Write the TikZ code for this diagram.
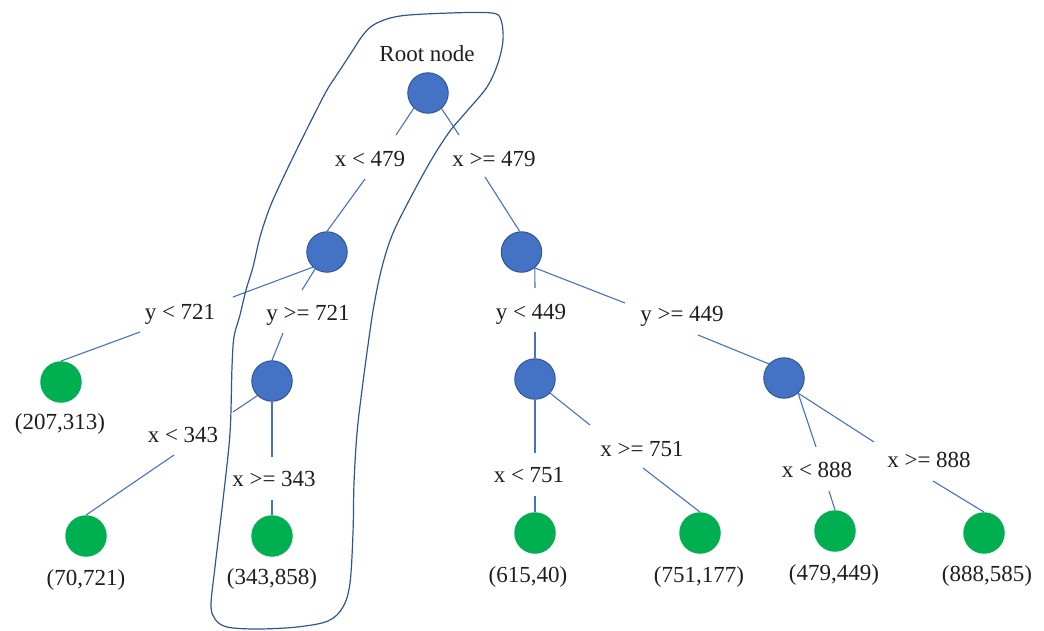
\documentclass[tikz,border=0pt]{standalone}
\usepackage{fontspec}
\setmainfont{Liberation Serif}
\definecolor{nodeblue}{HTML}{4472C4}
\definecolor{nodeedge}{HTML}{2F528F}
\definecolor{leafgreen}{HTML}{00B050}
\definecolor{linkblue}{HTML}{4472C4}
\definecolor{lassoblue}{HTML}{2F5597}
\definecolor{ink}{HTML}{1E1E1E}
\begin{document}
\begin{tikzpicture}[x=1pt,y=-1pt,
  split/.style={circle,fill=nodeblue,draw=nodeedge,line width=0.9pt,minimum size=40.5pt,inner sep=0pt},
  leaf/.style={circle,fill=leafgreen,minimum size=41.5pt,inner sep=0pt},
  lbl/.style={anchor=base,inner sep=0pt,text=ink,font=\fontsize{23}{26}\selectfont},
  link/.style={draw=linkblue,line width=1.1pt},
  outline/.style={draw=lassoblue,line width=1.2pt}]
\useasboundingbox (0,0) rectangle (1044,630);

% decision nodes
\node[split] (root) at (428,93) {};
\node[split] (A) at (327,252) {};
\node[split] (B) at (521.5,252) {};
\node[split] (C) at (272,381) {};
\node[split] (D) at (535,379) {};
\node[split] (E) at (784,378) {};

% leaves
\node[leaf] (L1) at (61,382) {};
\node[leaf] (L2) at (86,536) {};
\node[leaf] (L3) at (272,536) {};
\node[leaf] (L4) at (535,533) {};
\node[leaf] (L5) at (700,533) {};
\node[leaf] (L6) at (835,531) {};
\node[leaf] (L7) at (984,533) {};

% texts
\node[lbl] (tRoot) at (427,61) {Root node};
\node[lbl] (tR1) at (370,166) {x < 479};
\node[lbl] (tR2) at (494,166) {x >= 479};
\node[lbl] (tA1) at (180,319) {y < 721};
\node[lbl] (tA2) at (308,320) {y >= 721};
\node[lbl] (tC1) at (183,442) {x < 343};
\node[lbl] (tC2) at (274,486) {x >= 343};
\node[lbl] (tB1) at (531,319) {y < 449};
\node[lbl] (tB2) at (682,321) {y >= 449};
\node[lbl] (tD1) at (529,482) {x < 751};
\node[lbl] (tD2) at (642,456) {x >= 751};
\node[lbl] (tE1) at (817,477) {x < 888};
\node[lbl] (tE2) at (929,467) {x >= 888};
\node[lbl] (v1) at (60,429) {(207,313)};
\node[lbl] (v2) at (86,585) {(70,721)};
\node[lbl] (v3) at (272,584) {(343,858)};
\node[lbl] (v4) at (528,582) {(615,40)};
\node[lbl] (v5) at (699,582) {(751,177)};
\node[lbl] (v6) at (834,580) {(479,449)};
\node[lbl] (v7) at (987,581) {(888,585)};

% ends of the connector pieces beside each condition text
\coordinate (r1a) at (396,135); \coordinate (r1b) at (365,179);
\coordinate (r2a) at (459,135); \coordinate (r2b) at (485,177);
\coordinate (a1a) at (233,297); \coordinate (a1b) at (140,332);
\coordinate (a2a) at (302,290); \coordinate (a2b) at (283,333);
\coordinate (c1a) at (233,412); \coordinate (c1b) at (174,455);
\coordinate (c2a) at (272,457); \coordinate (c2b) at (272,500);
\coordinate (b1a) at (535,288); \coordinate (b1b) at (535,332);
\coordinate (b2a) at (625,303); \coordinate (b2b) at (698,335);
\coordinate (d1a) at (535,453); \coordinate (d1b) at (535,496);
\coordinate (d2a) at (590,425); \coordinate (d2b) at (643,468);
\coordinate (e1a) at (816,447); \coordinate (e1b) at (829,491);
\coordinate (e2a) at (874,442); \coordinate (e2b) at (933,481);

% connectors
\draw[link] (root.-133) -- (r1a);  \draw[link] (r1b) -- (A.north);
\draw[link] (root.-49) -- (r2a);   \draw[link] (r2b) -- (B.95);
\draw[link] (A.-133) -- (a1a);     \draw[link] (a1b) -- (L1.north);
\draw[link] (A.-125) -- (a2a);     \draw[link] (a2b) -- (C.north);
\draw[link] (C.-135) -- (c1a);     \draw[link] (c1b) -- (L2.north);
\draw[link] (C.south) -- (c2a);    \draw[link] (c2b) -- (L3.north);
\draw[link] (B.-50) -- (b1a);      \draw[link] (b1b) -- (D.north);
\draw[link] (B.-50) -- (b2a);      \draw[link] (b2b) -- (E.137);
\draw[link] (D.south) -- (d1a);    \draw[link] (d1b) -- (L4.north);
\draw[link] (D.-43) -- (d2a);      \draw[link] (d2b) -- (L5.north);
\draw[link] (E.-47) -- (e1a);      \draw[link] (e1b) -- (L6.north);
\draw[link] (E.-47) -- (e2a);      \draw[link] (e2b) -- (L7.north);

% hand-drawn loop around the path to the leaf (343,858)
\draw[outline] plot[smooth cycle, tension=0.55] coordinates {
  (363,35) (375,24) (400,16) (450,13) (492,13) (501,20) (503,40) (498,63)
  (487,87) (467,111) (450,131) (433,157) (413,193) (393,233) (382,267)
  (374,305) (368,345) (362,390) (357,433) (354,483) (353,533) (350,583)
  (343,607) (328,621) (297,627) (257,629) (227,627) (215,619) (211,605)
  (215,567) (223,500) (230,433) (232,367) (234,337) (240,315) (246,290)
  (253,267) (260,237) (270,207) (284,176) (300,143) (313,117) (327,90)
  (340,70) (353,50)};
\end{tikzpicture}
\end{document}
